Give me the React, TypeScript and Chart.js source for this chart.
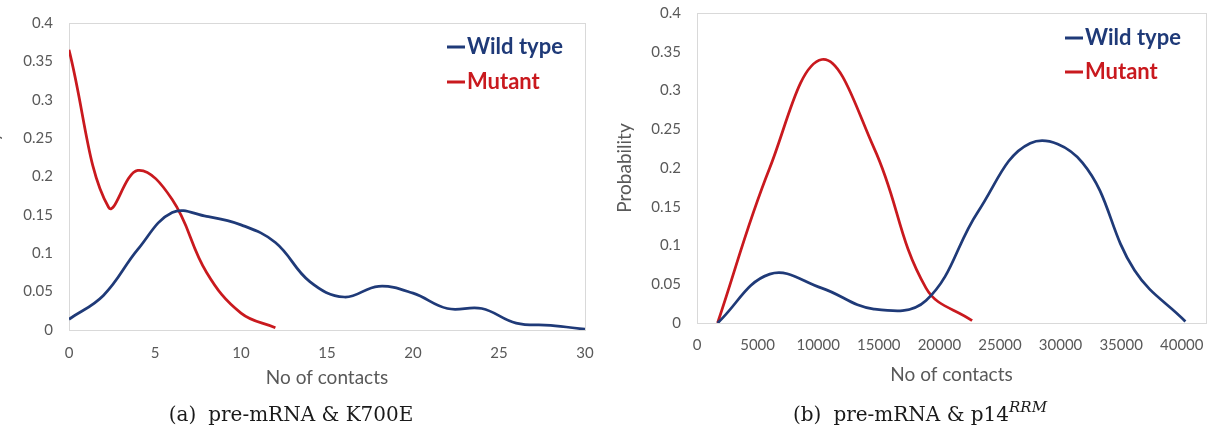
import React, { useEffect, useRef } from 'react';
import { Chart, registerables } from 'chart.js';

Chart.register(...registerables);

// ---------- data ----------
const seriesLabels = ['Wild type', 'Mutant'];
const seriesColors = ['#1F3A78', '#C9191E'];

const yTickValues = [0, 0.05, 0.1, 0.15, 0.2, 0.25, 0.3, 0.35, 0.4];
const xTitle = 'No of contacts';
const yTitle = 'Probability';

// panel (a) pre-mRNA & K700E
const aXTicks = [0, 5, 10, 15, 20, 25, 30];
const aWildX = [0, 2, 4, 6, 8, 10, 12, 14, 16, 18, 20, 22, 24, 26, 28, 30];
const aWildY = [0.014, 0.045, 0.105, 0.153, 0.148, 0.137, 0.114, 0.063, 0.043, 0.057, 0.048, 0.028, 0.028, 0.009, 0.006, 0.001];
const aMutX = [0, 2.3, 4, 6, 8, 10, 12];
const aMutY = [0.365, 0.16, 0.208, 0.17, 0.075, 0.022, 0.003];

// panel (b) pre-mRNA & p14RRM
const bXTicks = [0, 5000, 10000, 15000, 20000, 25000, 30000, 35000, 40000];
const bWildX = [1700, 6000, 10300, 14600, 18900, 23200, 27500, 31800, 36100, 40300];
const bWildY = [0, 0.063, 0.045, 0.018, 0.029, 0.144, 0.232, 0.207, 0.068, 0.002];
const bMutX = [1700, 6000, 10300, 14600, 18900, 22700];
const bMutY = [0, 0.2, 0.34, 0.226, 0.045, 0.003];

// ---------- plugins ----------
const plotBorder = {
  id: 'plotBorder',
  beforeDatasetsDraw(chart: any) {
    const { ctx, chartArea } = chart;
    ctx.save();
    ctx.strokeStyle = '#D9D9D9';
    ctx.lineWidth = 1;
    ctx.strokeRect(
      Math.round(chartArea.left) + 0.5,
      Math.round(chartArea.top) + 0.5,
      Math.round(chartArea.right - chartArea.left),
      Math.round(chartArea.bottom - chartArea.top)
    );
    ctx.restore();
  },
};

const insideLegend = {
  id: 'insideLegend',
  afterDraw(chart: any, _args: any, opts: any) {
    const { ctx, chartArea } = chart;
    ctx.save();
    ctx.font = 'bold 22px Lato';
    ctx.textBaseline = 'middle';
    ctx.textAlign = 'left';
    chart.data.datasets.forEach((ds: any, i: number) => {
      const x = chartArea.right - opts.dx;
      const y = chartArea.top + opts.dy + i * opts.gap;
      ctx.strokeStyle = ds.borderColor;
      ctx.lineWidth = 3;
      ctx.beginPath();
      ctx.moveTo(x, y);
      ctx.lineTo(x + 18, y);
      ctx.stroke();
      ctx.fillStyle = ds.borderColor;
      ctx.fillText(ds.label, x + 20, y);
    });
    ctx.restore();
  },
};

type Layout = {
  canvasLeft: number;
  canvasWidth: number;
  pad: { left: number; top: number; right: number; bottom: number };
  yWidth: number;
  xHeight: number;
  xTickPad: number;
  xMax: number;
  xTicks: number[];
  legend: { dx: number; dy: number; gap: number };
};

function toPoints(xs: number[], ys: number[]) {
  return xs.map((x, i) => ({ x, y: ys[i] }));
}

function Panel(props: { wild: any[]; mut: any[]; layout: Layout }) {
  const ref = useRef<HTMLCanvasElement | null>(null);
  const { wild, mut, layout } = props;
  useEffect(() => {
    if (!ref.current) return;
    const tickFont = { family: 'Lato', size: 15 };
    const titleFont = { family: 'Lato', size: 19 };
    const chart = new Chart(ref.current, {
      type: 'line',
      data: {
        datasets: [
          {
            label: seriesLabels[0],
            data: wild,
            borderColor: seriesColors[0],
            backgroundColor: seriesColors[0],
            borderWidth: 2.75,
            pointRadius: 0,
            tension: 0.4,
            fill: false,
          },
          {
            label: seriesLabels[1],
            data: mut,
            borderColor: seriesColors[1],
            backgroundColor: seriesColors[1],
            borderWidth: 2.75,
            pointRadius: 0,
            tension: 0.4,
            fill: false,
          },
        ],
      },
      options: {
        responsive: false,
        animation: false,
        devicePixelRatio: 1,
        layout: { padding: layout.pad },
        plugins: {
          legend: { display: false },
          tooltip: { enabled: false },
          insideLegend: layout.legend,
        } as any,
        scales: {
          x: {
            type: 'linear',
            min: 0,
            max: layout.xMax,
            grid: { display: false, drawTicks: false },
            border: { display: false },
            afterBuildTicks: (s: any) => {
              s.ticks = layout.xTicks.map((v) => ({ value: v }));
            },
            afterFit: (s: any) => {
              s.height = layout.xHeight;
              s.paddingLeft = 0;
              s.paddingRight = 0;
            },
            ticks: {
              color: '#595959',
              font: tickFont,
              padding: layout.xTickPad,
              maxRotation: 0,
              autoSkip: false,
              callback: (v: any) => String(v),
            },
            title: {
              display: true,
              text: xTitle,
              color: '#595959',
              font: titleFont,
              padding: { top: 4, bottom: 4 },
            },
          },
          y: {
            type: 'linear',
            min: 0,
            max: 0.4,
            grid: { display: false, drawTicks: false },
            border: { display: false },
            afterBuildTicks: (s: any) => {
              s.ticks = yTickValues.map((v) => ({ value: v }));
            },
            afterFit: (s: any) => {
              s.width = layout.yWidth;
              s.paddingTop = 0;
              s.paddingBottom = 0;
            },
            ticks: {
              color: '#595959',
              font: tickFont,
              padding: 16,
              autoSkip: false,
              callback: (v: any) => String(v),
            },
            title: {
              display: true,
              text: yTitle,
              color: '#595959',
              font: titleFont,
              padding: { top: 4, bottom: 4 },
            },
          },
        },
      } as any,
      plugins: [plotBorder, insideLegend],
    });
    return () => chart.destroy();
  }, []);
  return (
    <canvas
      ref={ref}
      width={layout.canvasWidth}
      height={433}
      style={{ position: 'absolute', left: layout.canvasLeft, top: 0, width: layout.canvasWidth, height: 433 }}
    />
  );
}

const layoutA: Layout = {
  canvasLeft: -30,
  canvasWidth: 630,
  pad: { left: 7.6, top: 23, right: 15, bottom: 39.6 },
  yWidth: 91.4,
  xHeight: 63.4,
  xTickPad: 14,
  xMax: 30,
  xTicks: aXTicks,
  legend: { dx: 138, dy: 24, gap: 35 },
};

const layoutB: Layout = {
  canvasLeft: 600,
  canvasWidth: 612,
  pad: { left: 9.6, top: 13, right: 6, bottom: 42.6 },
  yWidth: 87.4,
  xHeight: 67.4,
  xTickPad: 13,
  xMax: 42000,
  xTicks: bXTicks,
  legend: { dx: 141, dy: 25, gap: 34 },
};

const captionStyle: React.CSSProperties = {
  position: 'absolute',
  top: 402,
  width: 400,
  textAlign: 'center',
  fontFamily: '"DejaVu Serif", serif',
  fontSize: 20,
  lineHeight: '24px',
  color: '#1a1a1a',
  whiteSpace: 'nowrap',
};

export default function App() {
  return (
    <div
      style={{
        position: 'absolute',
        left: 0,
        top: 0,
        width: 1212,
        height: 433,
        overflow: 'hidden',
        background: '#ffffff',
      }}
    >
      <Panel wild={toPoints(aWildX, aWildY)} mut={toPoints(aMutX, aMutY)} layout={layoutA} />
      <Panel wild={toPoints(bWildX, bWildY)} mut={toPoints(bMutX, bMutY)} layout={layoutB} />
      <div style={{ ...captionStyle, left: 291 - 200 }}>
        (a)<span style={{ marginLeft: 12 }}>pre-mRNA &amp; K700E</span>
      </div>
      <div style={{ ...captionStyle, left: 920 - 200 }}>
        (b)<span style={{ marginLeft: 12 }}>pre-mRNA &amp; p14</span>
        <span style={{ fontStyle: 'italic', fontSize: 15, position: 'relative', top: -9 }}>RRM</span>
      </div>
    </div>
  );
}
